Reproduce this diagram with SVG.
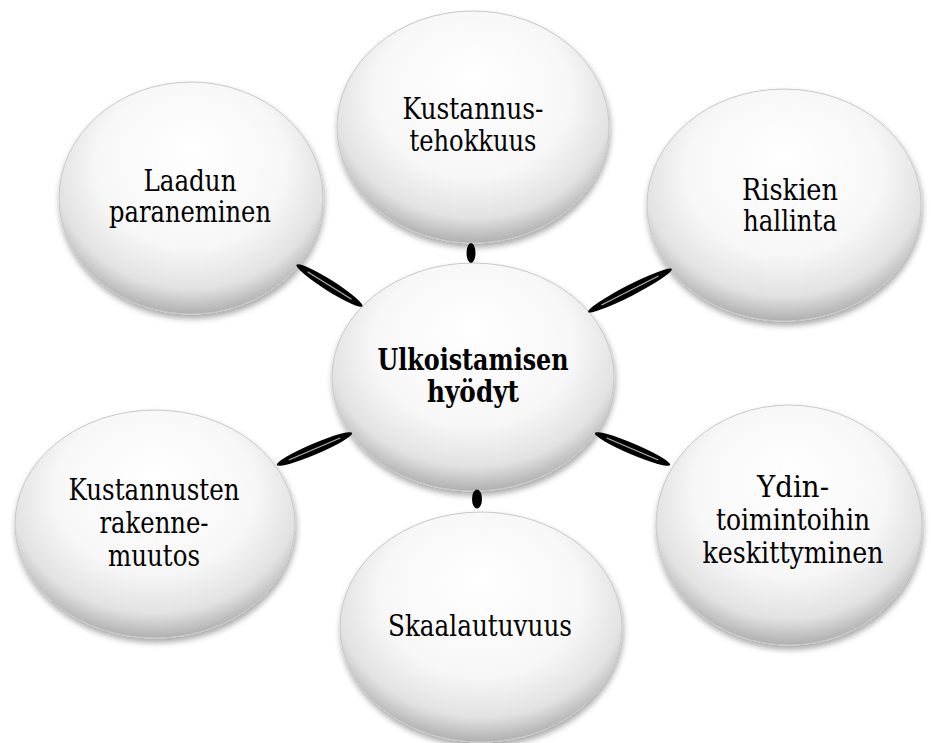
<svg xmlns="http://www.w3.org/2000/svg" width="931" height="743" viewBox="0 0 931 743">
<style>
.c{fill:url(#g);stroke:#c8c8c8;stroke-width:1;filter:url(#sh)}
.t{font-family:"DejaVu Serif","Liberation Serif",serif;font-size:29px;fill:#000;text-anchor:middle}
.b{font-weight:bold}
.k{fill:#000}
.h{stroke:#b0b0b0;stroke-width:1.2;fill:none}
</style>
<defs>
<radialGradient id="g" cx="50%" cy="40%" r="60%" fx="50%" fy="28%">
<stop offset="0" stop-color="#ffffff"/>
<stop offset="0.6" stop-color="#f7f7f7"/>
<stop offset="0.85" stop-color="#e2e2e2"/>
<stop offset="1" stop-color="#b0b0b0"/>
</radialGradient>
<filter id="sh" x="-15%" y="-15%" width="130%" height="135%">
<feGaussianBlur in="SourceAlpha" stdDeviation="3"/>
<feOffset dx="1" dy="4" result="o"/>
<feComponentTransfer in="o" result="s"><feFuncA type="linear" slope="0.35"/></feComponentTransfer>
<feMerge><feMergeNode in="s"/><feMergeNode in="SourceGraphic"/></feMerge>
</filter>
</defs>
<rect width="931" height="743" fill="#fff"/>
<g id="n-top"><ellipse class="c" cx="473" cy="127" rx="136" ry="116"/><text class="t" x="473" y="119" textLength="141" lengthAdjust="spacingAndGlyphs">Kustannus-</text><text class="t" x="473" y="151" textLength="127" lengthAdjust="spacingAndGlyphs">tehokkuus</text></g>
<g id="n-laadun"><ellipse class="c" cx="191" cy="198" rx="132" ry="116"/><text class="t" x="190" y="191" textLength="93" lengthAdjust="spacingAndGlyphs">Laadun</text><text class="t" x="190" y="222" textLength="162" lengthAdjust="spacingAndGlyphs">paraneminen</text></g>
<g id="n-riskien"><ellipse class="c" cx="784" cy="205" rx="137" ry="116"/><text class="t" x="790" y="200" textLength="96" lengthAdjust="spacingAndGlyphs">Riskien</text><text class="t" x="790" y="231" textLength="94" lengthAdjust="spacingAndGlyphs">hallinta</text></g>
<g id="n-center"><ellipse class="c" cx="473" cy="377" rx="141" ry="114"/><text class="t b" x="473" y="370" textLength="191" lengthAdjust="spacingAndGlyphs">Ulkoistamisen</text><text class="t b" x="473" y="402" textLength="92" lengthAdjust="spacingAndGlyphs">hyödyt</text></g>
<g id="n-kust"><ellipse class="c" cx="155" cy="524" rx="140" ry="114"/><text class="t" x="154" y="500" textLength="171" lengthAdjust="spacingAndGlyphs">Kustannusten</text><text class="t" x="154" y="533" textLength="109" lengthAdjust="spacingAndGlyphs">rakenne-</text><text class="t" x="154" y="566" textLength="92" lengthAdjust="spacingAndGlyphs">muutos</text></g>
<g id="n-skaal"><ellipse class="c" cx="481" cy="627" rx="141" ry="115"/><text class="t" x="480" y="636" textLength="184" lengthAdjust="spacingAndGlyphs">Skaalautuvuus</text></g>
<g id="n-ydin"><ellipse class="c" cx="789" cy="525" rx="133" ry="120"/><text class="t" x="793" y="497" textLength="72" lengthAdjust="spacingAndGlyphs">Ydin-</text><text class="t" x="793" y="530" textLength="154" lengthAdjust="spacingAndGlyphs">toimintoihin</text><text class="t" x="793" y="563" textLength="181" lengthAdjust="spacingAndGlyphs">keskittyminen</text></g>
<g id="connectors">
<g transform="translate(329.5,285.5) rotate(32.2)"><ellipse class="k" rx="39" ry="5.5"/><line class="h" x1="-26" y1="0" x2="26" y2="0"/></g>
<g transform="translate(471,253)"><ellipse class="k" rx="4.5" ry="10"/></g>
<g transform="translate(630,290.5) rotate(-27.1)"><ellipse class="k" rx="47" ry="5.5"/><line class="h" x1="-32" y1="0" x2="32" y2="0"/></g>
<g transform="translate(632.5,449) rotate(23.1)"><ellipse class="k" rx="41" ry="5.5"/><line class="h" x1="-28" y1="0" x2="28" y2="0"/></g>
<g transform="translate(314.5,449) rotate(-23.1)"><ellipse class="k" rx="41" ry="5.5"/><line class="h" x1="-28" y1="0" x2="28" y2="0"/></g>
<g transform="translate(477,499)"><ellipse class="k" rx="5" ry="9.5"/></g>
</g>
</svg>
